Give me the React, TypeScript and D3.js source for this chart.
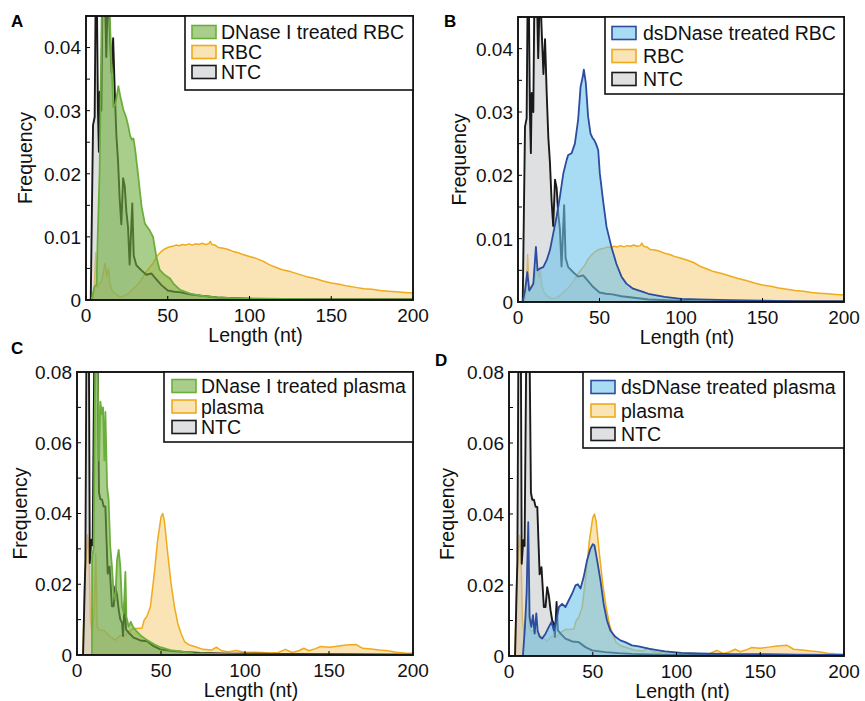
import React from "react";
import * as d3 from "d3";

// ---- RBC experiment (panels A, B) ----
const rbcLen = [0, 4, 5, 5.9, 6.8, 8, 9.5, 10.6, 11.6, 12.7, 13.7, 14.7, 16, 17.8, 20.8, 23, 25, 27, 29, 31, 33, 35, 37, 39, 41, 43, 45, 47, 49, 51, 53, 55, 57, 59, 61, 63, 65, 67, 69, 71, 73, 75, 76, 77, 79, 81, 84, 87, 90, 93, 96, 100, 104, 108, 112, 116, 120, 125, 130, 135, 140, 145, 150, 155, 160, 165, 170, 175, 180, 185, 190, 195, 200];
const rbcFreq = [0, 0, 0.0015, 0.0075, 0.002, 0.0025, 0.003, 0.0042, 0.0058, 0.0038, 0.005, 0.0025, 0.0015, 0.001, 0.0005, 0.0006, 0.0009, 0.0013, 0.0018, 0.0023, 0.0029, 0.0037, 0.0045, 0.0052, 0.0058, 0.0068, 0.0074, 0.0079, 0.0082, 0.0084, 0.0085, 0.0087, 0.0086, 0.0088, 0.0087, 0.0089, 0.0087, 0.0089, 0.0088, 0.009, 0.0088, 0.0089, 0.0093, 0.0088, 0.0087, 0.0083, 0.0082, 0.008, 0.0077, 0.0075, 0.0072, 0.0069, 0.0066, 0.0062, 0.0056, 0.0052, 0.0048, 0.0045, 0.0041, 0.0037, 0.0034, 0.003, 0.0027, 0.0025, 0.0022, 0.002, 0.0018, 0.0017, 0.0015, 0.0014, 0.0013, 0.0012, 0.0011];

const rbcNtcLen = [0, 2.9, 4.3, 5.3, 5.9, 6.5, 7.3, 7.9, 8.4, 9.4, 10, 11, 12.4, 13.5, 14.7, 15.6, 16.6, 17.6, 18.6, 19.6, 20.6, 21.6, 22.7, 23.7, 24.7, 25.7, 26.7, 28.3, 29.2, 30.8, 33.9, 36.9, 40, 42, 46, 50, 54, 58, 63.5, 70, 80, 90, 110, 130, 160, 200];
const rbcNtcFreq = [0, 0, 0.0277, 0.029, 0.048, 0.052, 0.03, 0.0235, 0.033, 0.03, 0.047, 0.056, 0.0385, 0.05, 0.0417, 0.036, 0.0415, 0.033, 0.026, 0.022, 0.016, 0.012, 0.0193, 0.018, 0.014, 0.0115, 0.0056, 0.0153, 0.007, 0.0055, 0.0047, 0.004, 0.0042, 0.0036, 0.0024, 0.0015, 0.0013, 0.0012, 0.0009, 0.0007, 0.0004, 0.0003, 0.0001, 0.0001, 0.0001, 0.0001];

const dnaseRbcLen = [0, 3.5, 5, 6.5, 7.2, 8.3, 9.6, 11, 12.5, 14.3, 15.5, 16.7, 18, 19.8, 21.2, 22.9, 24.5, 25.9, 27, 28, 29, 30, 32, 34, 36, 39, 41, 43, 45, 48, 51.4, 53.5, 57.5, 63.7, 70, 80, 90, 110, 140, 170, 200];
const dnaseRbcFreq = [0, 0, 0.002, 0.0025, 0.0105, 0.02, 0.045, 0.05, 0.052, 0.047, 0.038, 0.0306, 0.031, 0.0339, 0.032, 0.0301, 0.029, 0.0275, 0.026, 0.0254, 0.0256, 0.024, 0.0195, 0.0148, 0.0121, 0.011, 0.01, 0.0069, 0.0048, 0.004, 0.0034, 0.0026, 0.0016, 0.001, 0.0007, 0.0004, 0.0003, 0.0002, 0.0001, 0.0001, 0.0001];

const dsRbcLen = [0, 2.9, 4.3, 5.7, 6.9, 8.4, 9.4, 11, 12, 13.5, 15.5, 17.6, 19.6, 21.6, 23.7, 25.7, 27.8, 29.8, 30.8, 32.9, 34.9, 36.9, 38.4, 39.6, 40.4, 41.6, 43, 44.5, 45.7, 46.7, 47.8, 49.2, 50.2, 52.2, 54.3, 57.3, 60.4, 63.5, 66.5, 70.6, 76.7, 80, 90, 100, 110, 130, 150, 175, 200];
const dsRbcFreq = [0, 0, 0.0018, 0.0047, 0.0018, 0.0024, 0.0029, 0.0087, 0.005, 0.0053, 0.0055, 0.0066, 0.0082, 0.0108, 0.0135, 0.0166, 0.0203, 0.0224, 0.0232, 0.0235, 0.025, 0.0288, 0.034, 0.0354, 0.0367, 0.0346, 0.0293, 0.0266, 0.0259, 0.0256, 0.025, 0.024, 0.0203, 0.016, 0.0119, 0.0087, 0.006, 0.004, 0.0029, 0.0021, 0.0016, 0.0013, 0.0008, 0.0005, 0.0004, 0.0003, 0.0002, 0.0001, 0.0001];

// ---- plasma experiment (panels C, D) ----
const plasmaLen = [0, 3.6, 4.5, 5.5, 6.3, 7.2, 8, 9, 10.2, 11.2, 12, 13, 15.9, 19.8, 22.8, 25.8, 27.8, 30.8, 33.7, 35.7, 38.7, 40, 41.7, 43.7, 46, 48, 50, 51, 52, 54, 56, 58, 60, 62, 64, 67, 70, 75, 80, 83, 86, 90, 95, 100, 105, 110, 115, 120, 124, 128, 132, 135, 138, 142, 145, 150, 155, 160, 166, 170, 175, 180, 185, 190, 195, 200];
const plasmaFreq = [0, 0, 0.02, 0.028, 0.034, 0.028, 0.01, 0.006, 0.012, 0.0287, 0.008, 0.0071, 0.007, 0.0052, 0.0042, 0.0056, 0.0052, 0.0066, 0.0075, 0.0075, 0.0076, 0.0099, 0.011, 0.0137, 0.023, 0.0325, 0.039, 0.04, 0.038, 0.0287, 0.0202, 0.0137, 0.0089, 0.006, 0.0038, 0.0028, 0.0024, 0.0016, 0.0014, 0.0022, 0.0012, 0.0009, 0.0013, 0.0007, 0.0008, 0.0007, 0.0006, 0.0007, 0.0016, 0.0007, 0.0012, 0.0019, 0.0012, 0.0018, 0.0024, 0.0022, 0.0025, 0.0028, 0.003, 0.0019, 0.0017, 0.0014, 0.0012, 0.0008, 0.0006, 0.0005];

const plasmaNtcLen = [0, 3.6, 5, 5.6, 6.3, 7.1, 7.6, 8.5, 9.3, 10.3, 11.2, 12.3, 13.1, 13.9, 14.9, 15.9, 16.9, 17.5, 18.3, 19.4, 20.8, 21.8, 22.8, 23.8, 24.8, 25.8, 26.8, 27.4, 28.4, 29.2, 30.8, 33.7, 37.7, 41.7, 45.6, 49.6, 57.5, 65.5, 73.4, 90, 120, 160, 200];
const plasmaNtcFreq = [0, 0, 0.027, 0.085, 0.09, 0.085, 0.026, 0.0326, 0.031, 0.085, 0.09, 0.085, 0.046, 0.044, 0.044, 0.042, 0.042, 0.0335, 0.023, 0.025, 0.0138, 0.0138, 0.0194, 0.017, 0.0129, 0.01, 0.0091, 0.0054, 0.0152, 0.0072, 0.0063, 0.0049, 0.0041, 0.0039, 0.0025, 0.0016, 0.0011, 0.0008, 0.0006, 0.0004, 0.0003, 0.0002, 0.0001];

const dnasePlasmaLen = [0, 8.9, 9, 9.9, 10.9, 12, 13.1, 13.9, 14.9, 15.5, 16.3, 16.9, 17.9, 18.8, 19.8, 20.8, 21.8, 22.8, 23.8, 24.8, 25.8, 26.8, 27.8, 28.8, 29.4, 30.8, 32, 33.3, 34.7, 37.7, 41.7, 45.6, 49.6, 55.6, 61.5, 69.4, 83, 100, 130, 165, 200];
const dnasePlasmaFreq = [0, 0, 0.0278, 0.03, 0.085, 0.09, 0.055, 0.0716, 0.068, 0.07, 0.055, 0.0687, 0.0476, 0.044, 0.0306, 0.025, 0.0174, 0.0155, 0.0268, 0.0297, 0.025, 0.0137, 0.0118, 0.0235, 0.0108, 0.008, 0.0094, 0.008, 0.0071, 0.0056, 0.0042, 0.0031, 0.0022, 0.0014, 0.001, 0.0005, 0.0003, 0.0002, 0.0001, 0.0001, 0.0001];

const dsPlasmaLen = [0, 8.3, 9.5, 10.5, 11.5, 12.3, 13.3, 14.3, 15.3, 16.3, 17.1, 18.3, 19.8, 21.8, 23.8, 25.4, 26.8, 28.2, 29.8, 31.7, 33.7, 35.7, 37.7, 39.7, 41.1, 42.7, 44.6, 46.6, 48.6, 50, 51, 52.6, 54.6, 56.5, 58.5, 60.5, 63.5, 66.5, 69.4, 73.4, 77.4, 83.3, 89.3, 93.3, 103, 113, 133, 153, 172, 200];
const dsPlasmaFreq = [0, 0, 0.008, 0.0176, 0.0377, 0.011, 0.0082, 0.0115, 0.0063, 0.012, 0.0072, 0.0054, 0.0049, 0.0063, 0.0082, 0.0096, 0.0072, 0.01, 0.0138, 0.0147, 0.0138, 0.0157, 0.0176, 0.0199, 0.0202, 0.019, 0.0223, 0.027, 0.0302, 0.0315, 0.0312, 0.027, 0.0213, 0.0147, 0.01, 0.0072, 0.0054, 0.0044, 0.0039, 0.003, 0.0027, 0.0021, 0.0016, 0.0013, 0.0009, 0.0007, 0.0005, 0.0005, 0.0004, 0.0003];

const rbcTicks = [0, 0.01, 0.02, 0.03, 0.04];
const plasmaTicks = [0, 0.02, 0.04, 0.06, 0.08];
const lengthTicks = [0, 50, 100, 150, 200];

const FONT = "'Liberation Sans', Arial, sans-serif";

const styles: Record<string, { fill: string; op: number; stroke: string; sw: number }> = {
  green: { fill: "#6fae3f", op: 0.6, stroke: "#6cae3c", sw: 1.8 },
  blue: { fill: "#6ec3ec", op: 0.6, stroke: "#2c4c9e", sw: 1.8 },
  yellow: { fill: "#f5c86a", op: 0.5, stroke: "#eeab1c", sw: 1.5 },
  grey: { fill: "#c0c2c6", op: 0.5, stroke: "#1a1a1a", sw: 1.9 },
};

type Series = { name: string; len: number[]; freq: number[]; kind: string };

const panels = [
  {
    id: "A", lx: 11, ly: 27, left: 86, right: 413, top: 16, bottom: 300, yMax: 0.045, ticks: rbcTicks, minor: 0.005,
    ylabX: 25,
    legend: { x0: 185, y0: 16, x1: 413, rows: [32, 52, 72], y1: 90, sx: 192, tx: 221 },
    series: [
      { name: "DNase I treated RBC", len: dnaseRbcLen, freq: dnaseRbcFreq, kind: "green" },
      { name: "RBC", len: rbcLen, freq: rbcFreq, kind: "yellow" },
      { name: "NTC", len: rbcNtcLen, freq: rbcNtcFreq, kind: "grey" },
    ] as Series[],
  },
  {
    id: "B", lx: 444, ly: 27, left: 518, right: 844, top: 17, bottom: 302, yMax: 0.045, ticks: rbcTicks, minor: 0.005,
    ylabX: 459,
    legend: { x0: 605, y0: 17, x1: 844, rows: [33, 56, 79], y1: 94, sx: 612, tx: 643 },
    series: [
      { name: "dsDNase treated RBC", len: dsRbcLen, freq: dsRbcFreq, kind: "blue" },
      { name: "RBC", len: rbcLen, freq: rbcFreq, kind: "yellow" },
      { name: "NTC", len: rbcNtcLen, freq: rbcNtcFreq, kind: "grey" },
    ] as Series[],
  },
  {
    id: "C", lx: 11, ly: 354, left: 77, right: 413, top: 372, bottom: 655, yMax: 0.08, ticks: plasmaTicks, minor: 0.01,
    ylabX: 20,
    legend: { x0: 164, y0: 372, x1: 413, rows: [386, 406.5, 427], y1: 442, sx: 172, tx: 201 },
    series: [
      { name: "DNase I treated plasma", len: dnasePlasmaLen, freq: dnasePlasmaFreq, kind: "green" },
      { name: "plasma", len: plasmaLen, freq: plasmaFreq, kind: "yellow" },
      { name: "NTC", len: plasmaNtcLen, freq: plasmaNtcFreq, kind: "grey" },
    ] as Series[],
  },
  {
    id: "D", lx: 435, ly: 366, left: 509, right: 844, top: 372, bottom: 656, yMax: 0.08, ticks: plasmaTicks, minor: 0.01,
    ylabX: 447,
    legend: { x0: 583, y0: 372, x1: 844, rows: [387, 410.5, 434], y1: 448, sx: 591, tx: 621 },
    series: [
      { name: "dsDNase treated plasma", len: dsPlasmaLen, freq: dsPlasmaFreq, kind: "blue" },
      { name: "plasma", len: plasmaLen, freq: plasmaFreq, kind: "yellow" },
      { name: "NTC", len: plasmaNtcLen, freq: plasmaNtcFreq, kind: "grey" },
    ] as Series[],
  },
];

const Panel = ({ p }: { p: (typeof panels)[number] }) => {
  const x = d3.scaleLinear().domain([0, 200]).range([p.left, p.right]);
  const y = d3.scaleLinear().domain([0, p.yMax]).range([p.bottom, p.top]);
  const area = d3.area<[number, number]>().x((d) => x(d[0])).y0(y(0)).y1((d) => y(d[1]));
  const line = d3.line<[number, number]>().x((d) => x(d[0])).y((d) => y(d[1]));
  // draw order: control, NTC, treated on top
  const drawOrder = [p.series[1], p.series[2], p.series[0]];
  const minorTicks = d3.range(0, p.yMax + 1e-9, p.minor);
  const clipId = "clip" + p.id;
  const fmt = (v: number) => (v === 0 ? "0" : d3.format(".2f")(v));
  const lg = p.legend;
  return (
    <g>
      <defs>
        <clipPath id={clipId}>
          <rect x={p.left} y={p.top} width={p.right - p.left} height={p.bottom - p.top} />
        </clipPath>
      </defs>
      <text x={p.lx} y={p.ly} fontFamily={FONT} fontWeight="bold" fontSize={17}>{p.id}</text>
      <g clipPath={`url(#${clipId})`}>
        {drawOrder.map((s) => {
          const pts = s.len.map((l, i) => [l, s.freq[i]] as [number, number]);
          const st = styles[s.kind];
          return (
            <g key={s.name}>
              <path d={area(pts) || ""} fill={st.fill} fillOpacity={st.op} stroke="none" />
              <path d={line(pts) || ""} fill="none" stroke={st.stroke} strokeWidth={st.sw} strokeLinejoin="round" />
            </g>
          );
        })}
      </g>
      {/* y ticks */}
      {minorTicks.map((t) => (
        <line key={"m" + t} x1={p.left} x2={p.left + 4} y1={y(t)} y2={y(t)} stroke="#000" strokeWidth={1} />
      ))}
      {p.ticks.map((t) => (
        <text key={"yt" + t} x={p.left - 5} y={y(t)} dy="0.36em" textAnchor="end" fontFamily={FONT} fontSize={19} fill="#111">
          {fmt(t)}
        </text>
      ))}
      {lengthTicks.map((t) => (
        <g key={"xt" + t}>
          <line x1={x(t)} x2={x(t)} y1={p.bottom} y2={p.bottom - 4} stroke="#000" strokeWidth={1} />
          <text x={x(t)} y={p.bottom + 22} textAnchor="middle" fontFamily={FONT} fontSize={19} fill="#111">{t}</text>
        </g>
      ))}
      <rect x={p.left} y={p.top} width={p.right - p.left} height={p.bottom - p.top} fill="none" stroke="#111" strokeWidth={1.9} />
      <text x={(p.left + p.right) / 2 + 6} y={p.bottom + 42} textAnchor="middle" fontFamily={FONT} fontSize={19.5} fill="#111">
        Length (nt)
      </text>
      <text
        transform={`translate(${p.ylabX},${(p.top + p.bottom) / 2}) rotate(-90)`}
        dy="0.35em" textAnchor="middle" fontFamily={FONT} fontSize={19.5} fill="#111"
      >
        Frequency
      </text>
      {/* legend */}
      <rect x={lg.x0} y={lg.y0} width={lg.x1 - lg.x0} height={lg.y1 - lg.y0} fill="#fff" stroke="#111" strokeWidth={1.6} />
      {p.series.map((s, i) => {
        const st = styles[s.kind];
        return (
          <g key={"lg" + s.name}>
            <rect x={lg.sx} y={lg.rows[i] - 6.5} width={24} height={13} fill="#fff" />
            <rect x={lg.sx} y={lg.rows[i] - 6.5} width={24} height={13} fill={st.fill} fillOpacity={st.op} stroke={st.stroke} strokeWidth={1.6} />
            <text x={lg.tx} y={lg.rows[i]} dy="0.36em" fontFamily={FONT} fontSize={19.5} fill="#111">{s.name}</text>
          </g>
        );
      })}
    </g>
  );
};

export default function App() {
  return (
    <svg width={865} height={701} style={{ position: "absolute", left: 0, top: 0, background: "#fff" }}>
      <rect width={865} height={701} fill="#fff" />
      {panels.map((p) => (
        <Panel key={p.id} p={p} />
      ))}
    </svg>
  );
}
